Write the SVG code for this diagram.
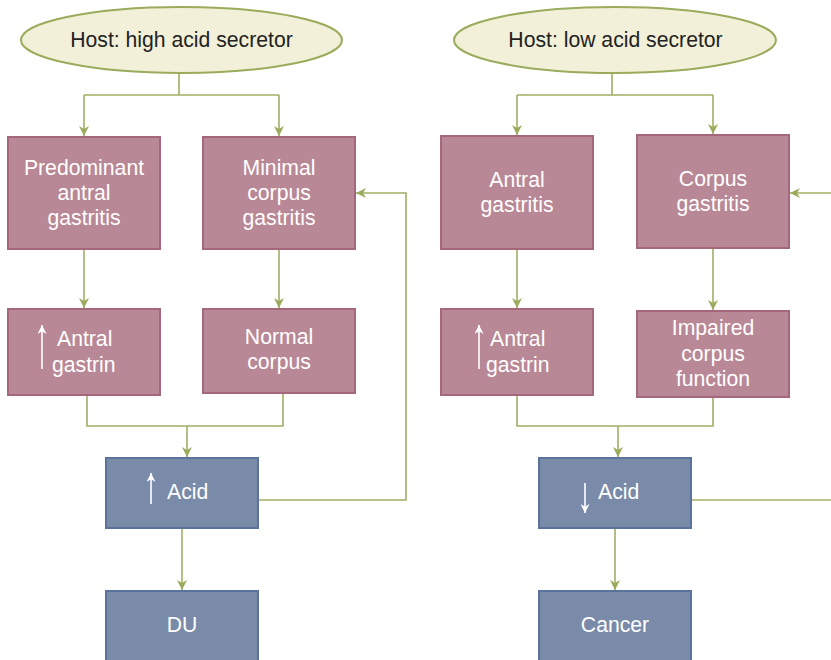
<svg xmlns="http://www.w3.org/2000/svg" width="831" height="660" viewBox="0 0 831 660">
<defs>
<style>
.host{fill:#f2f0d9;stroke:#9aab5c;stroke-width:2}
.pink{fill:#b98896;stroke:#a5677b;stroke-width:2}
.blue{fill:#7a8ba9;stroke:#5b739a;stroke-width:2}
.conn{fill:none;stroke:#9fb064;stroke-width:1.6}
text{font-family:"Liberation Sans",Arial,sans-serif;font-size:21.2px;text-anchor:middle}
.dark{fill:#222}
.light{fill:#fff}
.start{text-anchor:start}
.sym{stroke:#fff;stroke-width:1.6;fill:none}
</style>
<marker id="ah" viewBox="0 0 10 10" refX="10" refY="5" markerWidth="11" markerHeight="10" markerUnits="userSpaceOnUse" orient="auto">
<path d="M0,0 L10,5 L0,10 L3,5 Z" fill="#9aab5c"/>
</marker>
<marker id="wh" viewBox="0 0 10 10" refX="10" refY="5" markerWidth="10" markerHeight="9" markerUnits="userSpaceOnUse" orient="auto">
<path d="M0,0 L10,5 L0,10 L3,5 Z" fill="#fff"/>
</marker>
</defs>
<rect width="831" height="660" fill="#fff"/>
<g id="connectors">
<path class="conn" d="M179,73 V95 M84,95 H279"/>
<path class="conn" d="M84,95 V136" marker-end="url(#ah)"/>
<path class="conn" d="M279,95 V136" marker-end="url(#ah)"/>
<path class="conn" d="M612,73 V95 M517,95 H713"/>
<path class="conn" d="M517,95 V135" marker-end="url(#ah)"/>
<path class="conn" d="M713,95 V134" marker-end="url(#ah)"/>
<path class="conn" d="M84,250 V308" marker-end="url(#ah)"/>
<path class="conn" d="M279,250 V308" marker-end="url(#ah)"/>
<path class="conn" d="M517,250 V308" marker-end="url(#ah)"/>
<path class="conn" d="M713,249 V310" marker-end="url(#ah)"/>
<path class="conn" d="M87,396 V426 H283 V394"/>
<path class="conn" d="M187,426 V457" marker-end="url(#ah)"/>
<path class="conn" d="M517,396 V426 H713 V398"/>
<path class="conn" d="M618,426 V457" marker-end="url(#ah)"/>
<path class="conn" d="M258,500 H406 V193 H356" marker-end="url(#ah)"/>
<path class="conn" d="M691,500 H831"/>
<path class="conn" d="M831,193 H790" marker-end="url(#ah)"/>
<path class="conn" d="M182,529 V590" marker-end="url(#ah)"/>
<path class="conn" d="M615,529 V590" marker-end="url(#ah)"/>
</g>
<g id="host-high">
<ellipse class="host" cx="181.5" cy="40" rx="160.5" ry="33"/>
<text class="dark" x="181.5" y="47">Host: high acid secretor</text>
</g>
<g id="host-low">
<ellipse class="host" cx="615" cy="40" rx="161" ry="33"/>
<text class="dark" x="615.5" y="47">Host: low acid secretor</text>
</g>
<g id="predominant-antral-gastritis">
<rect class="pink" x="8" y="137" width="152" height="112"/>
<text class="light" x="84" y="175">Predominant</text>
<text class="light" x="84" y="200">antral</text>
<text class="light" x="84" y="225">gastritis</text>
</g>
<g id="minimal-corpus-gastritis">
<rect class="pink" x="203" y="137" width="152" height="112"/>
<text class="light" x="279" y="175">Minimal</text>
<text class="light" x="279" y="200">corpus</text>
<text class="light" x="279" y="225">gastritis</text>
</g>
<g id="antral-gastritis">
<rect class="pink" x="441" y="136" width="152" height="113"/>
<text class="light" x="517" y="187">Antral</text>
<text class="light" x="517" y="212">gastritis</text>
</g>
<g id="corpus-gastritis">
<rect class="pink" x="637" y="135" width="152" height="113"/>
<text class="light" x="713" y="186">Corpus</text>
<text class="light" x="713" y="211">gastritis</text>
</g>
<g id="antral-gastrin-high">
<rect class="pink" x="8" y="309" width="152" height="86"/>
<path class="sym" d="M42,369 V325" marker-end="url(#wh)"/>
<text class="light start" x="57" y="346">Antral</text>
<text class="light start" x="52" y="372">gastrin</text>
</g>
<g id="normal-corpus">
<rect class="pink" x="203" y="309" width="152" height="84"/>
<text class="light" x="279" y="344">Normal</text>
<text class="light" x="279" y="369">corpus</text>
</g>
<g id="antral-gastrin-low">
<rect class="pink" x="441" y="309" width="152" height="86"/>
<path class="sym" d="M479,369 V325" marker-end="url(#wh)"/>
<text class="light start" x="490" y="346">Antral</text>
<text class="light start" x="486" y="372">gastrin</text>
</g>
<g id="impaired-corpus-function">
<rect class="pink" x="637" y="311" width="152" height="86"/>
<text class="light" x="713" y="335">Impaired</text>
<text class="light" x="713" y="361">corpus</text>
<text class="light" x="713" y="386">function</text>
</g>
<g id="acid-high">
<rect class="blue" x="106" y="458" width="152" height="70"/>
<path class="sym" d="M151,504 V473" marker-end="url(#wh)"/>
<text class="light start" x="167" y="499">Acid</text>
</g>
<g id="acid-low">
<rect class="blue" x="539" y="458" width="152" height="70"/>
<path class="sym" d="M585,483 V513" marker-end="url(#wh)"/>
<text class="light start" x="598" y="499">Acid</text>
</g>
<g id="du">
<rect class="blue" x="106" y="591" width="152" height="80"/>
<text class="light" x="182" y="632">DU</text>
</g>
<g id="cancer">
<rect class="blue" x="539" y="591" width="152" height="80"/>
<text class="light" x="615" y="632">Cancer</text>
</g>
</svg>
